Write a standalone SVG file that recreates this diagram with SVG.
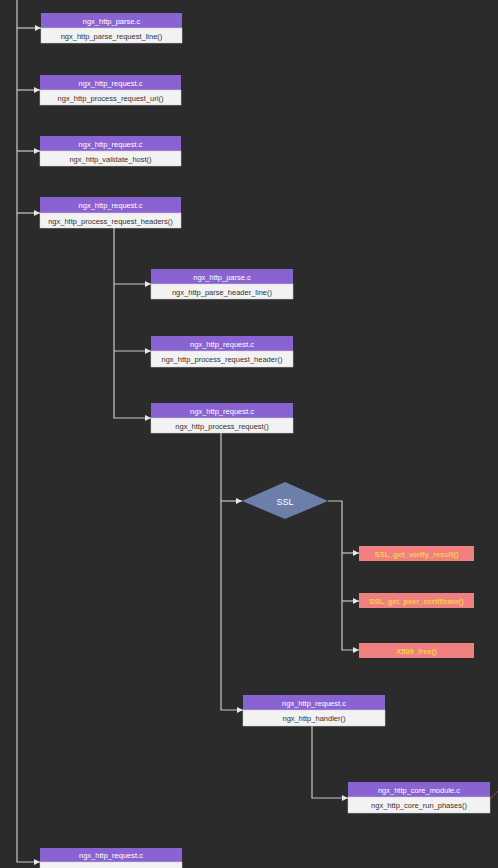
<svg xmlns="http://www.w3.org/2000/svg" width="498" height="868" viewBox="0 0 498 868">
<defs>
<marker id="arr" viewBox="0 0 6 6" refX="6" refY="3" markerWidth="6" markerHeight="6" markerUnits="userSpaceOnUse" orient="auto">
<path d="M0,0 L6,3 L0,6 z" fill="#e6e6e6"/>
</marker>
</defs>
<style>
.bg{fill:#2b2b2b}
.hd{fill:#8a63d2}
.bd{fill:#f2f2f2;stroke:#d0d0d0;stroke-width:0.5}
.ht{font-family:"Liberation Sans",Arial,sans-serif;font-size:7.5px;fill:#ffffff;text-anchor:middle}
.bt{font-family:"Liberation Sans",Arial,sans-serif;font-size:7.5px;fill:#333333;text-anchor:middle}
.cn{fill:none;stroke:#c8c8c8;stroke-width:1.2}
.red{fill:#f08080}
.rt{font-family:"Liberation Sans",Arial,sans-serif;font-size:7.5px;font-weight:bold;fill:#f7d04a;text-anchor:middle}
.dia{fill:#6b7faa}
.st{font-family:"Liberation Sans",Arial,sans-serif;font-size:9px;fill:#ffffff;text-anchor:middle}
</style>
<rect class="bg" x="0" y="0" width="498" height="868"/>
<g id="connectors">
<path class="cn" d="M17,0 V862 H40" marker-end="url(#arr)"/>
<path class="cn" d="M17,28 H41" marker-end="url(#arr)"/>
<path class="cn" d="M17,90 H40" marker-end="url(#arr)"/>
<path class="cn" d="M17,151 H40" marker-end="url(#arr)"/>
<path class="cn" d="M17,213 H40" marker-end="url(#arr)"/>
<path class="cn" d="M114,228 V418 H151" marker-end="url(#arr)"/>
<path class="cn" d="M114,284 H151" marker-end="url(#arr)"/>
<path class="cn" d="M114,351 H151" marker-end="url(#arr)"/>
<path class="cn" d="M221,433 V710 H243" marker-end="url(#arr)"/>
<path class="cn" d="M221,501 H242" marker-end="url(#arr)"/>
<path class="cn" d="M328,501 H342 V650 H359" marker-end="url(#arr)"/>
<path class="cn" d="M342,553 H359" marker-end="url(#arr)"/>
<path class="cn" d="M342,601 H359" marker-end="url(#arr)"/>
<path class="cn" d="M312,726 V798 H348" marker-end="url(#arr)"/>
<path d="M489,800 L498,791" fill="none" stroke="#e05050" stroke-width="1" stroke-dasharray="2,1.5"/>
</g>
<g id="n1">
<rect class="hd" x="41" y="13" width="141" height="15"/>
<rect class="bd" x="41" y="28" width="141" height="15"/>
<text class="ht" x="111.5" y="23.5">ngx_http_parse.c</text>
<text class="bt" x="111.5" y="38.5">ngx_http_parse_request_line()</text>
</g>
<g id="n2">
<rect class="hd" x="40" y="75" width="141" height="15"/>
<rect class="bd" x="40" y="90" width="141" height="15"/>
<text class="ht" x="110.5" y="85.5">ngx_http_request.c</text>
<text class="bt" x="110.5" y="100.5">ngx_http_process_request_uri()</text>
</g>
<g id="n3">
<rect class="hd" x="40" y="136" width="141" height="15"/>
<rect class="bd" x="40" y="151" width="141" height="15"/>
<text class="ht" x="110.5" y="146.5">ngx_http_request.c</text>
<text class="bt" x="110.5" y="161.5">ngx_http_validate_host()</text>
</g>
<g id="n4">
<rect class="hd" x="40" y="197" width="141" height="16"/>
<rect class="bd" x="40" y="213" width="141" height="15"/>
<text class="ht" x="110.5" y="208">ngx_http_request.c</text>
<text class="bt" x="110.5" y="223.5">ngx_http_process_request_headers()</text>
</g>
<g id="n5">
<rect class="hd" x="151" y="269" width="142" height="15"/>
<rect class="bd" x="151" y="284" width="142" height="15"/>
<text class="ht" x="222" y="279.5">ngx_http_parse.c</text>
<text class="bt" x="222" y="294.5">ngx_http_parse_header_line()</text>
</g>
<g id="n6">
<rect class="hd" x="151" y="336" width="142" height="15"/>
<rect class="bd" x="151" y="351" width="142" height="16"/>
<text class="ht" x="222" y="346.5">ngx_http_request.c</text>
<text class="bt" x="222" y="362">ngx_http_process_request_header()</text>
</g>
<g id="n7">
<rect class="hd" x="151" y="403" width="142" height="15"/>
<rect class="bd" x="151" y="418" width="142" height="15"/>
<text class="ht" x="222" y="413.5">ngx_http_request.c</text>
<text class="bt" x="222" y="428.5">ngx_http_process_request()</text>
</g>
<g id="ssl">
<polygon class="dia" points="242,501 285,482 328,501 285,519"/>
<text class="st" x="285" y="504.5">SSL</text>
</g>
<g id="r1">
<rect class="red" x="359" y="546" width="115" height="15"/>
<text class="rt" x="416.5" y="556.5">SSL_get_verify_result()</text>
</g>
<g id="r2">
<rect class="red" x="359" y="593" width="115" height="15"/>
<text class="rt" x="416.5" y="603.5">SSL_get_peer_certificate()</text>
</g>
<g id="r3">
<rect class="red" x="359" y="643" width="115" height="15"/>
<text class="rt" x="416.5" y="653.5">X509_free()</text>
</g>
<g id="n8">
<rect class="hd" x="243" y="695" width="142" height="15"/>
<rect class="bd" x="243" y="710" width="142" height="16"/>
<text class="ht" x="314" y="705.5">ngx_http_request.c</text>
<text class="bt" x="314" y="721">ngx_http_handler()</text>
</g>
<g id="n9">
<rect class="hd" x="348" y="782" width="142" height="15"/>
<rect class="bd" x="348" y="797" width="142" height="16"/>
<text class="ht" x="419" y="792.5">ngx_http_core_module.c</text>
<text class="bt" x="419" y="808">ngx_http_core_run_phases()</text>
</g>
<g id="n10">
<rect class="hd" x="40" y="848" width="142" height="14"/>
<rect class="bd" x="40" y="862" width="142" height="15"/>
<text class="ht" x="111" y="858">ngx_http_request.c</text>
<text class="bt" x="111" y="872.5">ngx_http_run_posted_requests()</text>
</g>
</svg>
